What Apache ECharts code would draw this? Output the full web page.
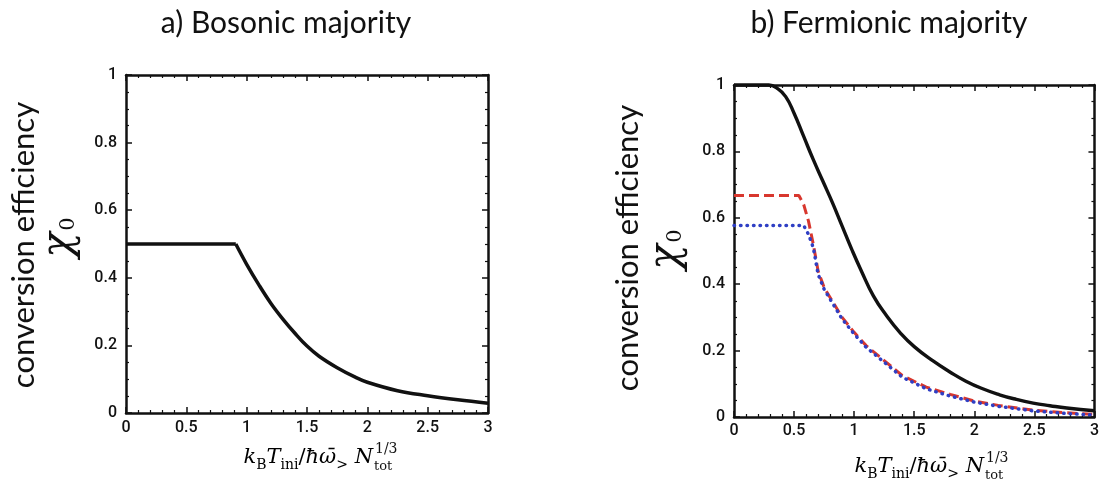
<!DOCTYPE html>
<html><head><meta charset="utf-8">
<script src="https://cdn.jsdelivr.net/npm/echarts@6/dist/echarts.min.js"></script>
<style>html,body{margin:0;padding:0;background:#fff;}#c{width:1102px;height:491px;}</style>
</head><body><div id="c"></div>
<script>
// ---- tick labels / texts ----
const xTickLabels = ['0', '0.5', '1', '1.5', '2', '2.5', '3'];
const yTickLabels = ['0', '0.2', '0.4', '0.6', '0.8', '1'];
const panelTitles = ['a) Bosonic majority', 'b) Fermionic majority'];
const yLabelText = 'conversion efficiency';

// ---- panel a) bosonic majority (solid black) ----
const bosonX = [0, 0.91, 1.0, 1.1, 1.2, 1.3, 1.4, 1.5, 1.6, 1.75, 1.9, 2.0, 2.25, 2.5, 2.75, 3.0];
const bosonY = [0.5, 0.5, 0.44, 0.38, 0.325, 0.278, 0.236, 0.198, 0.168, 0.134, 0.106, 0.091, 0.066, 0.051, 0.039, 0.029];

// ---- panel b) fermionic majority ----
const fermiBlackX = [0, 0.29, 0.36, 0.43, 0.50, 0.58, 0.66, 0.74, 0.82, 0.90, 0.98, 1.06, 1.16, 1.27, 1.38, 1.5, 1.66, 1.8, 1.93, 2.07, 2.21, 2.35, 2.49, 2.63, 2.77, 3.0];
const fermiBlackY = [1, 1, 0.99, 0.965, 0.915, 0.845, 0.775, 0.71, 0.645, 0.575, 0.505, 0.44, 0.365, 0.305, 0.255, 0.212, 0.168, 0.135, 0.108, 0.085, 0.067, 0.053, 0.042, 0.034, 0.027, 0.019];

const fermiRedX = [0, 0.54, 0.58, 0.62, 0.66, 0.70, 0.75, 0.80, 0.90, 1.0, 1.1, 1.25, 1.4, 1.6, 1.8, 2.0, 2.2, 2.5, 2.75, 3.0];
const fermiRedY = [0.667, 0.667, 0.64, 0.59, 0.52, 0.44, 0.39, 0.36, 0.30, 0.255, 0.215, 0.17, 0.125, 0.09, 0.068, 0.048, 0.035, 0.02, 0.013, 0.008];

const fermiBlueX = [0, 0.58, 0.62, 0.66, 0.70, 0.75, 0.80, 0.90, 1.0, 1.1, 1.25, 1.4, 1.6, 1.8, 2.0, 2.2, 2.5, 2.75, 3.0];
const fermiBlueY = [0.577, 0.577, 0.55, 0.51, 0.43, 0.385, 0.355, 0.295, 0.25, 0.21, 0.165, 0.12, 0.085, 0.063, 0.045, 0.032, 0.018, 0.011, 0.006];

const zip = (xs, ys) => xs.map((x, i) => [x, ys[i]]);

const INK = '#111';
const lbl = { fontFamily: 'Roboto', fontWeight: 500, fontSize: 16, color: INK };

function xAx(grid, pos, show, margin) {
  return {
    type: 'value', gridIndex: grid, position: pos, min: 0, max: 3, interval: 0.5,
    axisLine: { show: true, onZero: false, lineStyle: { color: INK, width: 2.5 } },
    axisTick: { show: true, inside: true, length: 6, lineStyle: { color: INK, width: 1.5 } },
    minorTick: { show: true, splitNumber: 5, length: 3, lineStyle: { color: INK, width: 1.2 } },
    splitLine: { show: false },
    axisLabel: Object.assign({ show: show, margin: margin, showMinLabel: true, showMaxLabel: true,
      formatter: v => xTickLabels[Math.round(v * 2)] }, lbl)
  };
}
function yAx(grid, pos, show, margin) {
  return {
    type: 'value', gridIndex: grid, position: pos, min: 0, max: 1, interval: 0.2,
    axisLine: { show: true, onZero: false, lineStyle: { color: INK, width: 2.5 } },
    axisTick: { show: true, inside: true, length: 6, lineStyle: { color: INK, width: 1.5 } },
    minorTick: { show: true, splitNumber: 4, length: 3, lineStyle: { color: INK, width: 1.2 } },
    splitLine: { show: false },
    axisLabel: Object.assign({ show: show, margin: margin, showMinLabel: true, showMaxLabel: true,
      formatter: v => yTickLabels[Math.round(v * 5)] }, lbl)
  };
}

const mathFont = 'DejaVu Serif';
const rich = {
  i: { fontFamily: mathFont, fontStyle: 'italic', fontSize: 21, color: INK, verticalAlign: 'middle', lineHeight: 26 },
  r: { fontFamily: mathFont, fontSize: 21, color: INK, verticalAlign: 'middle', lineHeight: 26 },
  s: { fontFamily: mathFont, fontSize: 14, color: INK, verticalAlign: 'middle', padding: [14, 0, 0, 0] }
};
function xLabel(nx, cy) {
  return [
    { type: 'text', x: nx, y: cy, style: { text: '{i|k}{s|B}{i|T}{s|ini}{r|/}{i|ħω̄}{s|>}{i| N}', rich: rich, textAlign: 'right', textVerticalAlign: 'middle' } },
    { type: 'text', x: nx + 2, y: cy - 9, style: { text: '1/3', font: '14px "DejaVu Serif"', fill: INK, textAlign: 'left', textVerticalAlign: 'middle' } },
    { type: 'text', x: nx + 1, y: cy + 9, style: { text: 'tot', font: '13px "DejaVu Serif"', fill: INK, textAlign: 'left', textVerticalAlign: 'middle' } }
  ];
}
function yLabel(cx, cy, chiX, chiY) {
  return [
    { type: 'text', x: cx, y: cy, rotation: Math.PI / 2, style: { text: yLabelText, font: '31px Lato', fill: INK, textAlign: 'center', textVerticalAlign: 'middle' } },
    { type: 'group', x: chiX, y: chiY, rotation: Math.PI / 2, children: [
      { type: 'text', x: -7, y: 0, style: { text: 'χ', font: 'italic 42px "DejaVu Serif"', fill: INK, textAlign: 'center', textVerticalAlign: 'middle' } },
      { type: 'text', x: 14, y: 9, style: { text: '0', font: '21px "DejaVu Serif"', fill: INK, textAlign: 'center', textVerticalAlign: 'middle' } }
    ] }
  ];
}

const chart = echarts.init(document.getElementById('c'), null, { renderer: 'canvas' });
chart.setOption({
  animation: false,
  backgroundColor: '#fff',
  grid: [
    { left: 126, top: 75, width: 362, height: 338 },
    { left: 734, top: 85, width: 361, height: 332 }
  ],
  xAxis: [xAx(0, 'bottom', true, 7), xAx(0, 'top', false, 0), xAx(1, 'bottom', true, 6), xAx(1, 'top', false, 0)],
  yAxis: [yAx(0, 'left', true, 9), yAx(0, 'right', false, 0), yAx(1, 'left', true, 9), yAx(1, 'right', false, 0)],
  series: [
    { type: 'line', xAxisIndex: 0, yAxisIndex: 0, data: zip(bosonX, bosonY).slice(0, 2), symbol: 'none', smooth: false, clip: false,
      lineStyle: { color: INK, width: 3.5 } },
    { type: 'line', xAxisIndex: 0, yAxisIndex: 0, data: zip(bosonX, bosonY).slice(1), symbol: 'none', smooth: 0.4, clip: false,
      lineStyle: { color: INK, width: 3.5 } },
    { type: 'line', xAxisIndex: 2, yAxisIndex: 2, data: zip(fermiBlackX, fermiBlackY), symbol: 'none', smooth: 0.5, clip: false,
      lineStyle: { color: INK, width: 3.4 } },
    { type: 'line', xAxisIndex: 2, yAxisIndex: 2, data: zip(fermiRedX, fermiRedY), symbol: 'none', smooth: false, clip: false,
      lineStyle: { color: '#d8372e', width: 3, type: [10, 5] } },
    { type: 'line', xAxisIndex: 2, yAxisIndex: 2, data: zip(fermiBlueX, fermiBlueY), symbol: 'none', smooth: false, clip: false,
      lineStyle: { color: '#2f3fc4', width: 3.5, type: [0.5, 6], cap: 'round' } }
  ],
  graphic: [
    { type: 'text', x: 286, y: 23, style: { text: panelTitles[0], font: '30px Lato', fill: INK, textAlign: 'center', textVerticalAlign: 'middle' } },
    { type: 'text', x: 889, y: 23, style: { text: panelTitles[1], font: '30px Lato', fill: INK, textAlign: 'center', textVerticalAlign: 'middle' } }
  ].concat(yLabel(24, 245, 60, 238), yLabel(628, 248, 667, 250), xLabel(373, 458), xLabel(984, 467))
});
</script>
</body></html>
